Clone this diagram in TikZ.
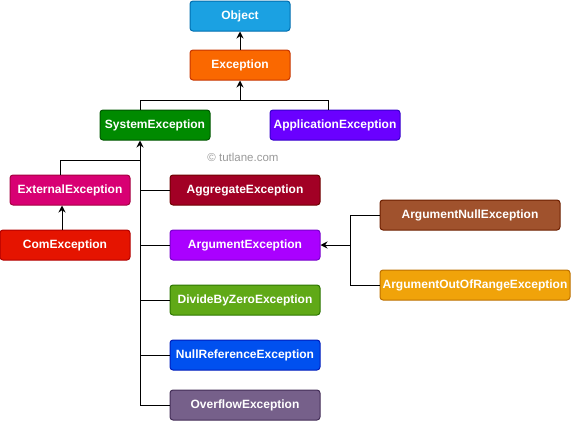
\documentclass[tikz,border=0pt]{standalone}
\usepackage{fontspec}
\setmainfont{Liberation Sans}
\usetikzlibrary{arrows.meta}
\definecolor{objF}{HTML}{1BA1E2}\definecolor{objD}{HTML}{006EAF}
\definecolor{excF}{HTML}{FA6800}\definecolor{excD}{HTML}{C73500}
\definecolor{sysF}{HTML}{008A00}\definecolor{sysD}{HTML}{005700}
\definecolor{appF}{HTML}{6A00FF}\definecolor{appD}{HTML}{3700CC}
\definecolor{extF}{HTML}{D80073}\definecolor{extD}{HTML}{A50040}
\definecolor{comF}{HTML}{E51400}\definecolor{comD}{HTML}{B20000}
\definecolor{aggF}{HTML}{A20025}\definecolor{aggD}{HTML}{6F0000}
\definecolor{argF}{HTML}{AA00FF}\definecolor{argD}{HTML}{7700CC}
\definecolor{divF}{HTML}{60A917}\definecolor{divD}{HTML}{2D7600}
\definecolor{nulF}{HTML}{0050EF}\definecolor{nulD}{HTML}{001DBC}
\definecolor{ovfF}{HTML}{76608A}\definecolor{ovfD}{HTML}{432D57}
\definecolor{anF}{HTML}{A0522D}\definecolor{anD}{HTML}{6D1F00}
\definecolor{aorF}{HTML}{F0A30A}\definecolor{aorD}{HTML}{BD7000}
\definecolor{wm}{HTML}{999999}
\begin{document}
\begin{tikzpicture}[x=1pt,y=-1pt,
  box/.style={draw, line width=1pt, rounded corners=3pt, text=white,
    font=\fontsize{12}{14}\selectfont\bfseries, inner sep=0pt, minimum height=30pt},
  conn/.style={line width=1pt, draw=black},
  arr/.style={conn, -{Stealth[length=7pt,width=7pt]}}]
\useasboundingbox (0,0) rectangle (571,421);
\node[box, fill=objF, draw=objD, minimum width=100pt] (obj) at (240,16) {Object};
\node[box, fill=excF, draw=excD, minimum width=100pt] (exc) at (240,65) {Exception};
\node[box, fill=sysF, draw=sysD, minimum width=110pt] (sys) at (155,125) {SystemException};
\node[box, fill=appF, draw=appD, minimum width=130pt] (app) at (335,125) {ApplicationException};
\node[box, fill=extF, draw=extD, minimum width=120pt] (ext) at (70,190) {ExternalException};
\node[box, fill=comF, draw=comD, minimum width=130pt] (com) at (65,245) {ComException};
\node[box, fill=aggF, draw=aggD, minimum width=150pt] (agg) at (245,190) {AggregateException};
\node[box, fill=argF, draw=argD, minimum width=150pt] (arg) at (245,245) {ArgumentException};
\node[box, fill=divF, draw=divD, minimum width=150pt] (div) at (245,300) {DivideByZeroException};
\node[box, fill=nulF, draw=nulD, minimum width=150pt] (nul) at (245,355) {NullReferenceException};
\node[box, fill=ovfF, draw=ovfD, minimum width=150pt] (ovf) at (245,405) {OverflowException};
\node[box, fill=anF, draw=anD, minimum width=180pt] (an) at (470,215) {ArgumentNullException};
\node[box, fill=aorF, draw=aorD, minimum width=190pt] (aor) at (475,285) {ArgumentOutOfRangeException};
\node[text=wm, font=\fontsize{11.5}{13}\selectfont] (wmk) at (243,157) {© tutlane.com};
\coordinate (j1) at (240,100);
\coordinate (t) at (140,405);
\coordinate (e1) at (140,160);
\coordinate (a1) at (350,245);
\draw[arr] (exc.north) -- (obj.south);
\draw[arr] ([xshift=-15pt]sys.north) |- (j1) -- (exc.south);
\draw[conn] ([xshift=-7pt]app.north) |- (j1);
\draw[arr] (ovf.west) -- (t) -- ([xshift=-15pt]sys.south);
\draw[conn] (agg.west) -- (agg.west -| t);
\draw[conn] (arg.west) -- (arg.west -| t);
\draw[conn] (div.west) -- (div.west -| t);
\draw[conn] (nul.west) -- (nul.west -| t);
\draw[conn] ([xshift=-10pt]ext.north) |- (e1);
\draw[arr] ([xshift=-3pt]com.north) -- ([xshift=-3pt]com.north |- ext.south);
\draw[arr] (an.west) -| (a1) -- (arg.east);
\draw[conn] (aor.west) -| (a1);
\end{tikzpicture}
\end{document}
